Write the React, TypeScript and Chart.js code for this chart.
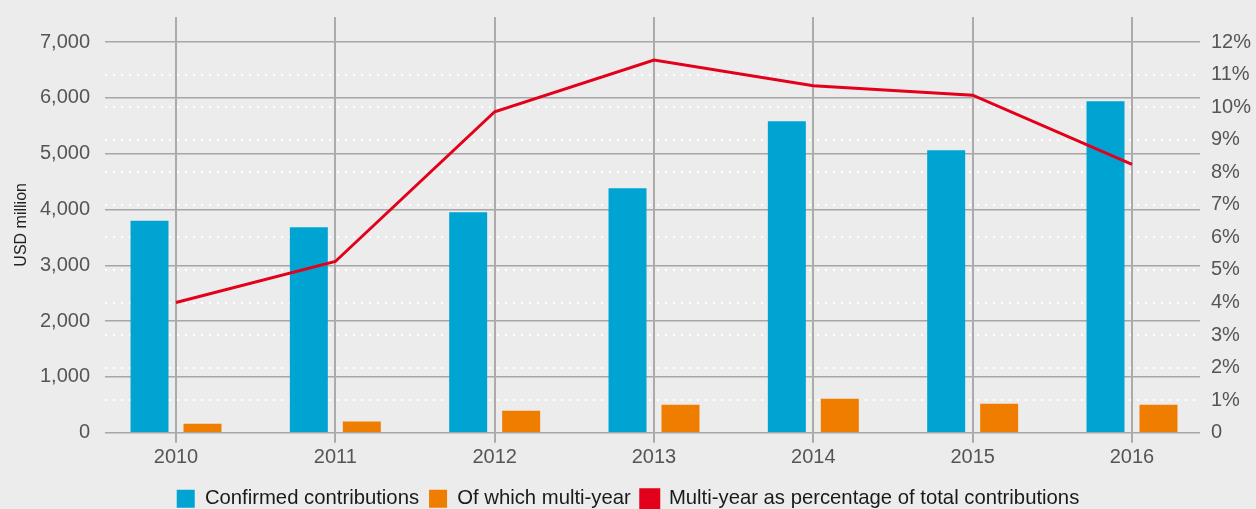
import React, { useEffect, useRef } from "react";
import { Chart, registerables } from "chart.js";

Chart.register(...registerables);

const categories = ["2010", "2011", "2012", "2013", "2014", "2015", "2016"];
const confirmedContributions = [3800, 3680, 3950, 4380, 5580, 5060, 5940];
const multiYearContributions = [160, 200, 395, 500, 610, 520, 500];
const multiYearPercentage = [4.0, 5.26, 9.86, 11.45, 10.66, 10.37, 8.24];
const leftTickValues = [0, 1000, 2000, 3000, 4000, 5000, 6000, 7000];
const rightTickValues = [0, 1, 2, 3, 4, 5, 6, 7, 8, 9, 10, 11, 12];

const FONT = "'Liberation Sans', Arial, sans-serif";
const BG = "#ececec";

export default function App() {
  const ref = useRef<HTMLCanvasElement | null>(null);

  useEffect(() => {
    document.body.style.margin = "0";
    document.body.style.background = BG;
    const canvas = ref.current;
    if (!canvas) return;
    const toXY = (arr: number[]) => arr.map((v, i) => ({ x: i, y: v }));
    const chart = new Chart(canvas, {
      type: "bar",
      data: {
        datasets: [
          {
            type: "bar",
            label: "Confirmed contributions",
            data: toXY(confirmedContributions),
            backgroundColor: "#00a4d3",
            borderWidth: 0,
            yAxisID: "y",
            categoryPercentage: 0.665,
            barPercentage: 0.717,
          } as any,
          {
            type: "bar",
            label: "Of which multi-year",
            data: toXY(multiYearContributions),
            backgroundColor: "#ef7d00",
            borderWidth: 0,
            yAxisID: "y",
            categoryPercentage: 0.665,
            barPercentage: 0.717,
          } as any,
          {
            type: "line",
            label: "Multi-year as percentage of total contributions",
            data: toXY(multiYearPercentage),
            borderColor: "#e2001a",
            backgroundColor: "#e2001a",
            borderWidth: 3,
            pointRadius: 0,
            tension: 0,
            fill: false,
            yAxisID: "y1",
            order: -1,
          } as any,
        ],
      },
      options: {
        animation: false,
        responsive: false,
        devicePixelRatio: 1,
        layout: { padding: { top: 17, left: 0, right: 0, bottom: -10 } },
        plugins: {
          tooltip: { enabled: false },
          legend: {
            position: "bottom",
            labels: {
              boxWidth: 18,
              boxHeight: 18,
              padding: 10,
              color: "#1a1a1a",
              font: { family: FONT, size: 20.3 },
              sort: (a: any, b: any) => a.datasetIndex - b.datasetIndex,
            },
          },
        },
        scales: {
          y: {
            type: "linear",
            position: "left",
            min: 0,
            max: 7450,
            afterBuildTicks: (s: any) => {
              s.ticks = leftTickValues.map((v) => ({ value: v }));
            },
            afterFit: (s: any) => {
              s.width = 105;
              s.paddingTop = 0;
              s.paddingBottom = 0;
            },
            grid: { color: "#a6a6a6", lineWidth: 1.5, drawTicks: false, z: -3 },
            border: { display: false },
            ticks: {
              padding: 15,
              color: "#555555",
              font: { family: FONT, size: 20 },
              callback: (v: any) => Number(v).toLocaleString("en-US"),
            },
            title: {
              display: true,
              text: "USD million",
              color: "#222222",
              font: { family: FONT, size: 16 },
              padding: { top: 12, bottom: 0 },
            },
          },
          y1: {
            type: "linear",
            position: "right",
            min: 0,
            max: (12 * 7450) / 7000,
            afterBuildTicks: (s: any) => {
              s.ticks = rightTickValues.map((v) => ({ value: v }));
            },
            afterFit: (s: any) => {
              s.width = 56;
              s.paddingTop = 0;
              s.paddingBottom = 0;
            },
            grid: {
              drawTicks: false,
              z: -2,
              lineWidth: 2,
              color: (ctx: any) =>
                ctx.tick && (ctx.tick.value === 0 || ctx.tick.value === 12)
                  ? "rgba(0,0,0,0)"
                  : "#ffffff",
            } as any,
            border: { display: false, dash: [2, 6] },
            ticks: {
              padding: 11,
              color: "#555555",
              font: { family: FONT, size: 20 },
              callback: (v: any) => (Number(v) === 0 ? "0" : `${v}%`),
            },
          },
          x: {
            type: "linear",
            position: "bottom",
            offset: false,
            min: -0.4456,
            max: 6.4268,
            afterBuildTicks: (s: any) => {
              s.ticks = categories.map((_, i) => ({ value: i }));
            },
            afterFit: (s: any) => {
              s.height = 46;
              s.paddingLeft = 0;
              s.paddingRight = 0;
            },
            grid: {
              offset: false,
              color: "#ababab",
              lineWidth: 2,
              drawTicks: true,
              tickLength: 10,
              z: -1,
            },
            border: { display: false },
            ticks: {
              padding: 3,
              color: "#555555",
              font: { family: FONT, size: 20 },
              maxRotation: 0,
              autoSkip: false,
              callback: (v: any) => categories[Number(v)] ?? "",
            },
          },
        },
      } as any,
    });
    return () => chart.destroy();
  }, []);

  return (
    <div style={{ width: 1256, height: 509, background: BG }}>
      <canvas ref={ref} width={1256} height={509} style={{ display: "block" }} />
    </div>
  );
}
